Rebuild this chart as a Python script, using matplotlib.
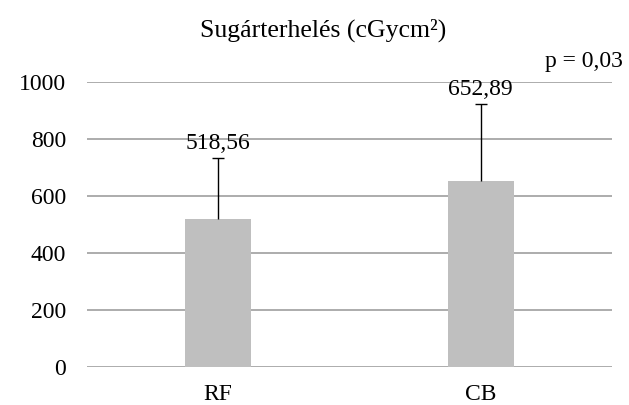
import matplotlib.pyplot as plt
import numpy as np

plt.rcParams['font.family'] = ['Liberation Serif', 'DejaVu Serif']

groups = ['RF', 'CB']
means = [518.56, 652.89]
errs = [214, 269]
labels = ['518,56', '652,89']

fig = plt.figure(figsize=(6.29, 4.05), dpi=100)
ax = fig.add_axes([87/629, 1 - 367/405, 525/629, 285/405])

x = np.arange(len(groups))
tops = np.array(means) + np.array(errs)
ax.bar(x, means, width=0.25, color='#bfbfbf', zorder=2)
# upper error bar only, with cap at the top
ax.vlines(x, means, tops, color='black', linewidth=1, zorder=3)
ax.plot(x, tops, linestyle='none', marker='_', markersize=8,
        markeredgewidth=1, color='black', zorder=3)
for xi, t, lab in zip(x, tops, labels):
    ax.annotate(lab, (xi, t), xytext=(0, 3), textcoords='offset points',
                ha='center', va='bottom', fontsize=17, zorder=4)

ax.set_xlim(-0.5, 1.5)
ax.set_ylim(0, 1000)
ax.set_yticks(range(0, 1001, 200))
ax.set_xticks(x)
ax.set_xticklabels(groups)
ax.yaxis.grid(True, color='#a6a6a6', linewidth=1.3, zorder=0)
ax.set_axisbelow(True)
for s in ax.spines.values():
    s.set_visible(False)
ax.tick_params(length=0, labelsize=17)
ax.tick_params(axis='y', pad=15)
ax.tick_params(axis='x', pad=12)

fig.text(0.514, 1 - 30/405, 'Sugárterhelés (cGycm²)', ha='center', va='center', fontsize=18.5)
fig.text(0.99, 1 - 61/405, 'p = 0,03', ha='right', va='center', fontsize=17)

fig.savefig('out.png', dpi=100)
